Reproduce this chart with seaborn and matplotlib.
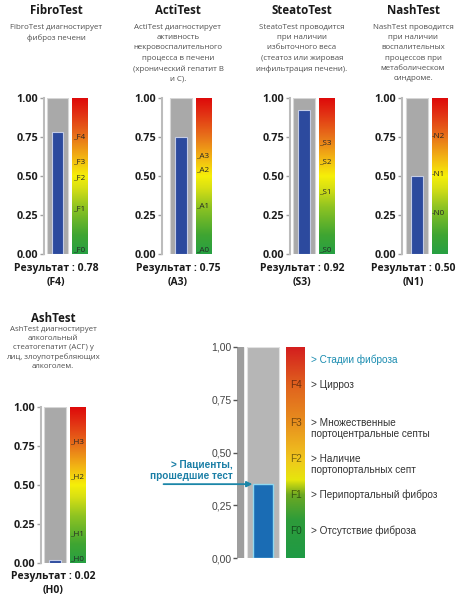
import numpy as np
import pandas as pd
import matplotlib
matplotlib.use("Agg")
import matplotlib.pyplot as plt
import seaborn as sns
from matplotlib.colors import LinearSegmentedColormap

# ---------------- data ----------------
test_names = ["FibroTest", "ActiTest", "SteatoTest", "NashTest", "AshTest"]
test_results = [0.78, 0.75, 0.92, 0.50, 0.02]
result_stages = ["F4", "A3", "S3", "N1", "H0"]
test_descriptions = [
    "FibroTest диагностирует\nфиброз печени",
    "ActiTest диагностирует\nактивность\nнекровоспалительного\nпроцесса в печени\n(хронический гепатит В\nи С).",
    "SteatoTest проводится\nпри наличии\nизбыточного веса\n(стеатоз или жировая\nинфильтрация печени).",
    "NashTest проводится\nпри наличии\nвоспалительных\nпроцессов при\nметаболическом\nсиндроме.",
    "AshTest диагностирует\nалкогольный\nстеатогепатит (АСГ) у\nлиц, злоупотребляющих\nалкоголем.",
]
stage_names = [
    ["F0", "F1", "F2", "F3", "F4"],
    ["A0", "A1", "A2", "A3"],
    ["S0", "S1", "S2", "S3"],
    ["N0", "N1", "N2"],
    ["H0", "H1", "H2", "H3"],
]
stage_cutoffs = [
    [0.03, 0.29, 0.49, 0.59, 0.75],
    [0.03, 0.31, 0.54, 0.63],
    [0.03, 0.40, 0.59, 0.71],
    [0.26, 0.51, 0.75],
    [0.03, 0.19, 0.55, 0.78],
]
y_ticks = [0.0, 0.25, 0.50, 0.75, 1.0]

legend_value = 0.35
legend_stages = ["F0", "F1", "F2", "F3", "F4"]
legend_stage_pos = [0.13, 0.30, 0.47, 0.64, 0.82]
legend_stage_text = [
    "> Отсутствие фиброза",
    "> Перипортальный фиброз",
    "> Наличие\nпортопортальных септ",
    "> Множественные\nпортоцентральные септы",
    "> Цирроз",
]
legend_header = "> Стадии фиброза"
legend_patient_label = "> Пациенты,\nпрошедшие тест"

# ---------------- style ----------------
sns.set_style("white")
small_font = ["Open Sans", "DejaVu Sans"]
narrow_font = ["Liberation Sans Narrow", "Liberation Sans", "DejaVu Sans"]
plt.rcParams["font.family"] = small_font

W, H = 466, 600
fig = plt.figure(figsize=(W / 100, H / 100), dpi=100)
fig.patch.set_facecolor("white")


def add_ax(l, t, r, b):
    return fig.add_axes([l / W, 1 - b / H, (r - l) / W, (b - t) / H])


def fx(px):
    return px / W


def fy(py):
    return 1 - py / H


small_cmap = LinearSegmentedColormap.from_list(
    "small",
    [(0.0, "#27a043"), (0.12, "#3fa532"), (0.30, "#8ec322"), (0.42, "#d6df14"),
     (0.50, "#f6ef08"), (0.62, "#f2b414"), (0.75, "#e8741a"), (0.90, "#e23214"),
     (1.0, "#de0a0a")])
big_cmap = LinearSegmentedColormap.from_list(
    "big",
    [(0.0, "#1f9a45"), (0.18, "#2e9c3a"), (0.30, "#6ea922"), (0.37, "#e6e60c"),
     (0.47, "#f0c61e"), (0.64, "#e8901e"), (0.82, "#e0621e"), (1.0, "#d41e1e")])
grad = np.linspace(0, 1, 256).reshape(-1, 1)

# ---------------- small panels ----------------
panel_center = [57.5, 181, 304, 417, 55]
panel_spine = [44, 162, 290, 402, 41]
panel_top = [98, 98, 98, 98, 407]
title_x = [56, 178, 302, 413, 53]
title_y = [10, 10, 10, 10, 318]
desc_top = [24, 24, 24, 24, 326]
desc_spacing = [1.64, 1.64, 1.64, 1.64, 1.38]
result_y = [269, 269, 269, 269, 577]
scale = 21.5
grad_l, grad_r = 0.68, 1.42

for i, name in enumerate(test_names):
    c = panel_center[i]
    ax = add_ax(panel_spine[i], panel_top[i], c + grad_r * scale, panel_top[i] + 156)
    ax.set_facecolor("none")
    ax.bar(0, 1.0, width=1.0, color="#a9a9a9", edgecolor="#d6d6d6", linewidth=0.8, zorder=1)
    df = pd.DataFrame({"test": [name], "value": [test_results[i]]})
    sns.barplot(data=df, x="test", y="value", width=0.52, color="#2c4a9e", saturation=1,
                edgecolor="#c4cce6", linewidth=0.8, ax=ax, zorder=2)
    ax.imshow(grad, extent=(grad_l, grad_r, 0, 1), aspect="auto", origin="lower",
              cmap=small_cmap, zorder=1)
    prefix = "-" if name == "NashTest" else "_"
    for sn, sv in zip(stage_names[i], stage_cutoffs[i]):
        ax.text(grad_l + 0.02, sv, prefix + sn, fontsize=5.8, color="#262626",
                ha="left", va="center", zorder=3)
    ax.set_xlim((panel_spine[i] - c) / scale, grad_r)
    ax.set_ylim(0, 1)
    for s in ["top", "right", "bottom"]:
        ax.spines[s].set_visible(False)
    ax.spines["left"].set_color("#bcbcbc")
    ax.spines["left"].set_linewidth(1.5)
    ax.set_xticks([])
    ax.set_xlabel("")
    ax.set_ylabel("")
    ax.set_yticks(y_ticks)
    ax.set_yticklabels([f"{v:.2f}" for v in y_ticks], fontweight="bold")
    ax.tick_params(axis="y", length=3, width=1, color="#a0a0a0", labelsize=7.8,
                   labelcolor="#1e1e1e", pad=1, left=True)

    fig.text(fx(title_x[i]), fy(title_y[i]), name, ha="center", va="center",
             fontsize=8.3, fontweight="bold", color="#1a1a1a")
    fig.text(fx(title_x[i]), fy(desc_top[i]), test_descriptions[i], ha="center", va="top",
             fontsize=5.7, color="#505050", linespacing=desc_spacing[i])
    fig.text(fx(title_x[i]), fy(result_y[i]), f"Результат : {test_results[i]:.2f}",
             ha="center", va="center", fontsize=7.5, fontweight="bold", color="#1a1a1a")
    fig.text(fx(title_x[i]), fy(result_y[i] + 14), f"({result_stages[i]})",
             ha="center", va="center", fontsize=7.5, fontweight="bold", color="#1a1a1a")

# ---------------- fibrosis legend panel ----------------
bx_l, bx_r = -0.81, 1.31
ax = add_ax(237, 347, 305, 558)
ax.set_facecolor("none")
ax.axvspan(bx_l, -0.63, color="#9e9e9e", zorder=0)
ax.bar(0, 1.0, width=1.0, color="#b6b6b6", edgecolor="#e2e2e2", linewidth=0.8, zorder=1)
ldf = pd.DataFrame({"group": ["patients"], "value": [legend_value]})
sns.barplot(data=ldf, x="group", y="value", width=0.62, color="#1a6cb4", saturation=1,
            edgecolor="#8fd8f0", linewidth=1.0, ax=ax, zorder=2)
ax.imshow(grad, extent=(0.72, bx_r, 0, 1), aspect="auto", origin="lower", cmap=big_cmap, zorder=1)
for sn, sp in zip(legend_stages, legend_stage_pos):
    ax.text(1.015, sp, sn, ha="center", va="center", fontsize=7.2, color="black", alpha=0.5,
            family=narrow_font, zorder=3)
for txt, sp in zip(legend_stage_text, legend_stage_pos):
    ax.text(1.5, sp + 0.025, txt, ha="left", va="top", fontsize=7.2, color="#333333",
            family=narrow_font, linespacing=1.2, clip_on=False)
ax.text(1.5, 0.94, legend_header, ha="left", va="center", fontsize=7.2, color="#1a8cb0",
        family=narrow_font, clip_on=False)
ax.annotate("", xy=(-0.33, legend_value), xytext=(-3.1, legend_value),
            arrowprops=dict(arrowstyle="-|>", color="#1b86a8", lw=1.3, shrinkA=0, shrinkB=0,
                            mutation_scale=8), annotation_clip=False)
ax.text(-0.94, legend_value + 0.015, legend_patient_label, ha="right", va="bottom",
        multialignment="right", fontsize=7.2, fontweight="bold", color="#1b7fa6",
        family=narrow_font, linespacing=1.1, clip_on=False)
ax.set_xlim(bx_l, bx_r)
ax.set_ylim(0, 1)
for s in ["top", "right", "bottom", "left"]:
    ax.spines[s].set_visible(False)
ax.set_xticks([])
ax.set_xlabel("")
ax.set_ylabel("")
ax.set_yticks(y_ticks)
ax.set_yticklabels([f"{v:.2f}".replace(".", ",") for v in y_ticks], family=narrow_font)
ax.tick_params(axis="y", length=3, width=1, color="#555555", labelsize=7.5,
               labelcolor="#444444", pad=1, left=True)

fig.savefig("out.png", dpi=100, facecolor="white")
